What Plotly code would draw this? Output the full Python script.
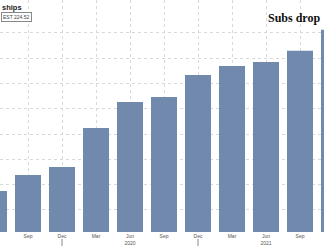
import plotly.graph_objects as go

quarters = ["Jun 2019", "Sep 2019", "Dec 2019", "Mar 2020", "Jun 2020", "Sep 2020",
            "Dec 2020", "Mar 2021", "Jun 2021", "Sep 2021", "Dec 2021"]
members = [157.5, 163.8, 167.0, 182.4, 192.7, 194.7, 203.4, 206.9, 208.5, 212.9, 221.2]
tick_labels = ["Jun", "Sep", "Dec", "Mar", "Jun<br>2020", "Sep", "Dec", "Mar",
               "Jun<br>2021", "Sep", "Dec"]
grid_values = [150, 160, 170, 180, 190, 200, 210, 220]
year_breaks = [2, 6]

x_idx = list(range(len(quarters)))

fig = go.Figure(go.Bar(
    x=x_idx, y=members,
    marker=dict(color="#7089ad", line=dict(width=0)),
    hovertext=quarters,
))

W, H = 324, 246
plot_h = 232

fig.update_layout(
    width=W, height=H,
    margin=dict(l=0, r=0, t=0, b=H - plot_h, pad=0),
    paper_bgcolor="white", plot_bgcolor="white",
    bargap=0.235,
    showlegend=False,
    xaxis=dict(
        range=[0.176, 9.706],
        tickvals=x_idx, ticktext=tick_labels,
        tickfont=dict(family="Liberation Sans", size=5, color="#555555"),
        showgrid=True, gridcolor="#d9d9d9", griddash="dot", gridwidth=1,
        ticks="", showline=False, zeroline=False,
    ),
    yaxis=dict(
        range=[141.3, 233.0],
        tickvals=grid_values, showticklabels=False,
        showgrid=True, gridcolor="#d9d9d9", griddash="dot", gridwidth=1,
        zeroline=False, showline=False, ticks="",
    ),
    annotations=[
        dict(text="<b>ships</b>", x=0, y=1 - 1 / plot_h, xref="paper", yref="paper",
             xanchor="left", yanchor="top", showarrow=False,
             font=dict(family="Liberation Sans", size=7.5, color="#222222")),
        dict(text="EST 224.52", x=0.5 / W, y=1 - 12 / plot_h, xref="paper", yref="paper",
             xanchor="left", yanchor="top", showarrow=False,
             bordercolor="#888888", borderwidth=1, borderpad=1, bgcolor="white",
             font=dict(family="Liberation Sans", size=5, color="#444444")),
        dict(text="<b>Subs drop</b>", x=322 / W, y=1 - 9 / plot_h, xref="paper", yref="paper",
             xanchor="right", yanchor="top", showarrow=False,
             font=dict(family="Liberation Serif", size=12, color="#111111")),
    ],
    shapes=[
        dict(type="line", xref="x", yref="paper", x0=i, x1=i,
             y0=-(239 - plot_h) / plot_h, y1=-(246 - plot_h) / plot_h,
             line=dict(color="#888888", width=1))
        for i in year_breaks
    ],
)

fig.write_html("out.html")
